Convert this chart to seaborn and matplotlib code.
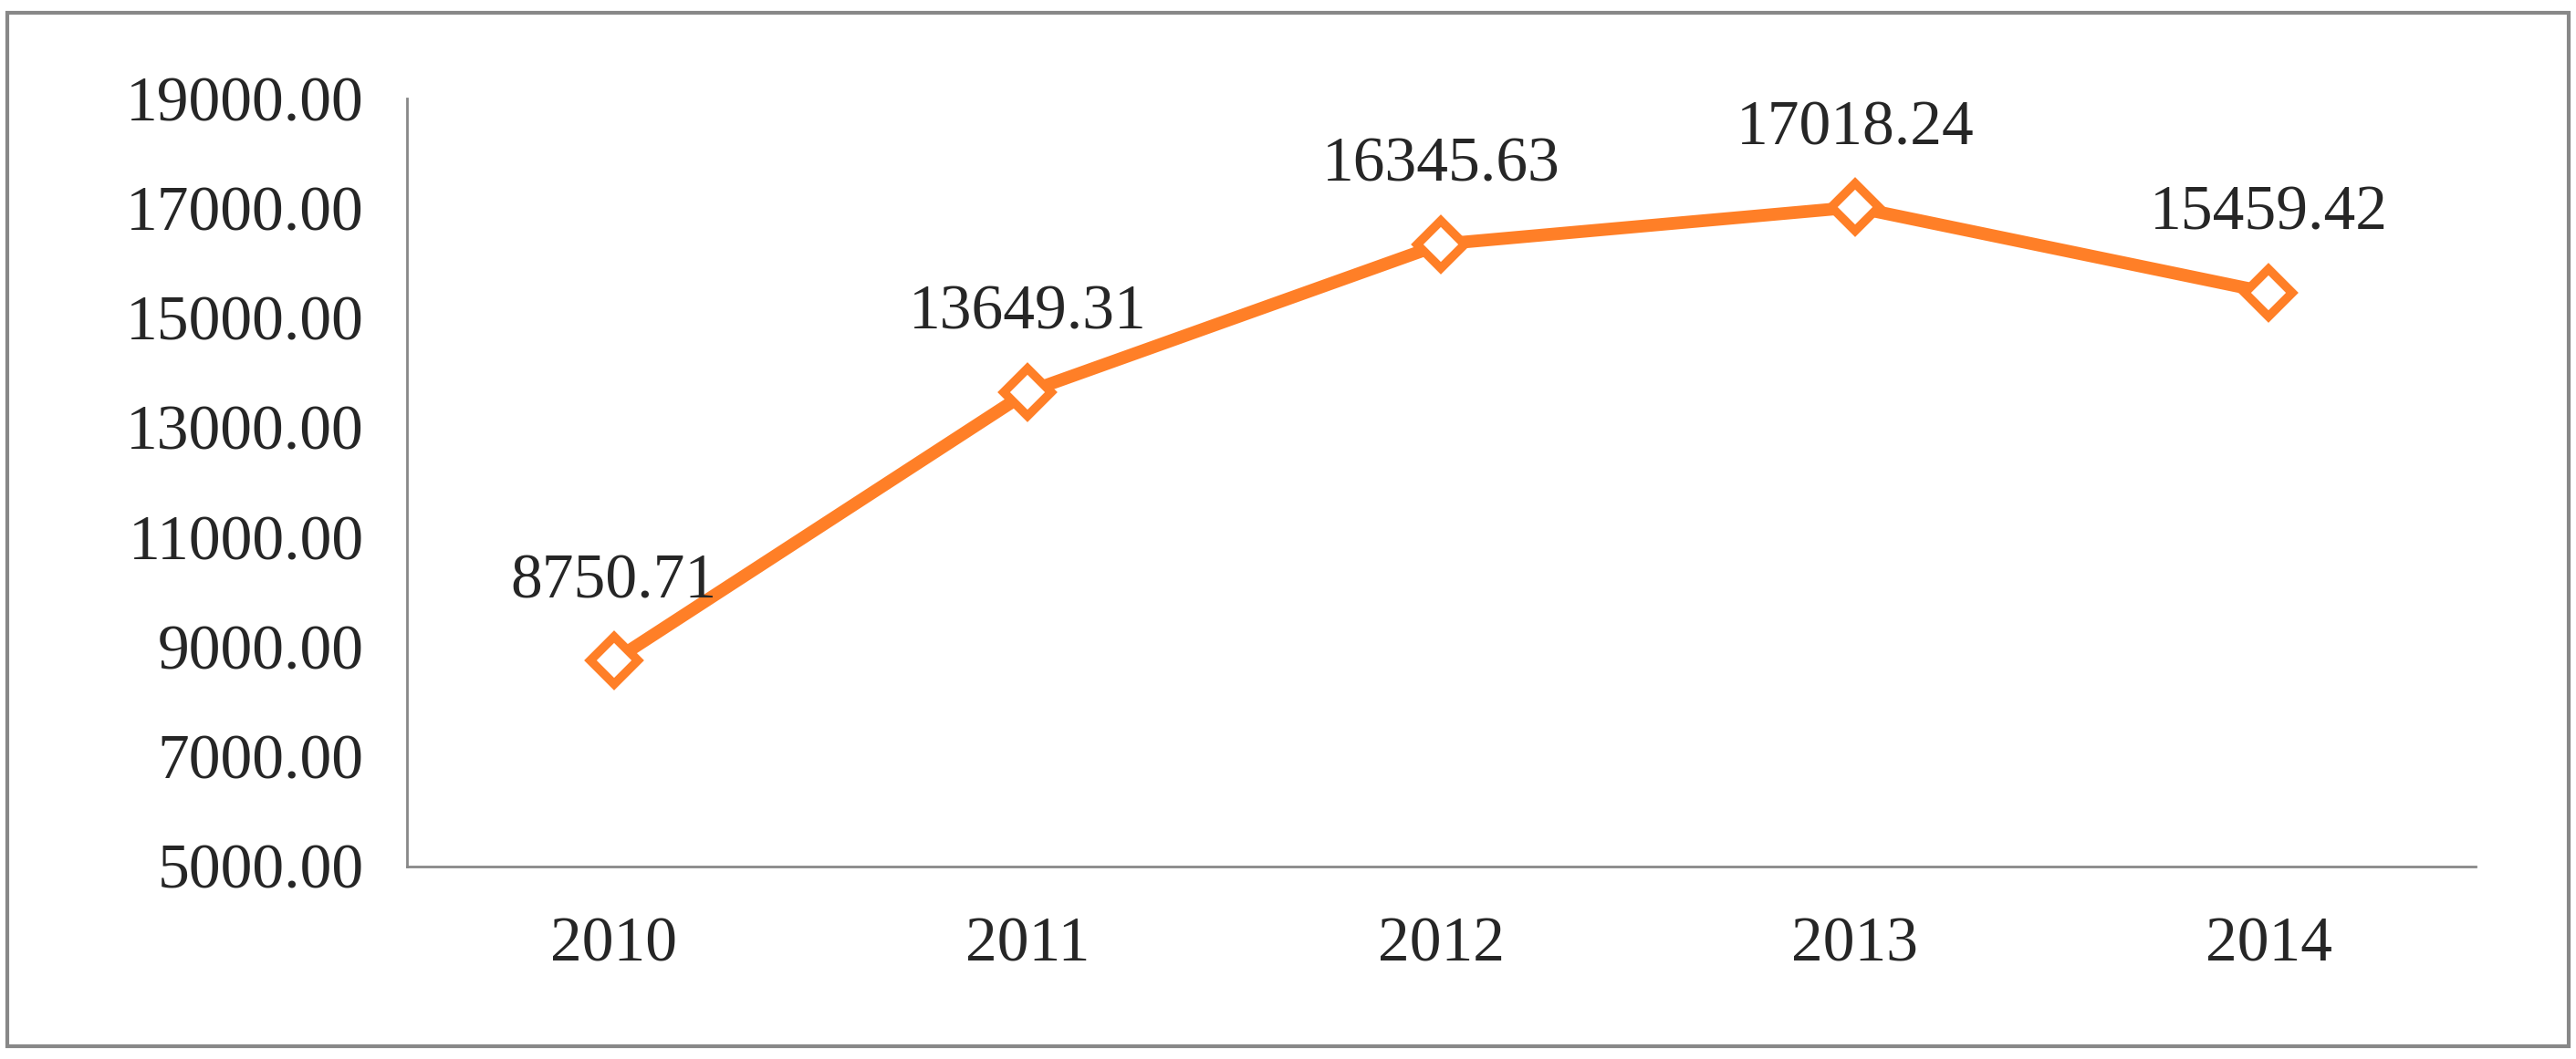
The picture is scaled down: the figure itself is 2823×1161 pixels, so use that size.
import matplotlib
matplotlib.use("Agg")
import matplotlib.pyplot as plt
import seaborn as sns
import pandas as pd
from matplotlib.patches import Rectangle

years = ["2010", "2011", "2012", "2013", "2014"]
values = [8750.71, 13649.31, 16345.63, 17018.24, 15459.42]
yticks = [5000, 7000, 9000, 11000, 13000, 15000, 17000, 19000]

sns.set_style("white")
plt.rcParams['font.family'] = ['Liberation Serif', 'DejaVu Serif']

df = pd.DataFrame({"pos": range(len(years)), "value": values})

fig = plt.figure(figsize=(28.23, 11.61), dpi=100)
ax = fig.add_axes([0.158, 0.182, 0.803, 0.725])
orange = "#FF7F27"
sns.lineplot(data=df, x="pos", y="value", ax=ax, color=orange, linewidth=10,
             marker="D", markersize=26, markerfacecolor="white",
             markeredgecolor=orange, markeredgewidth=7)

for i, v in enumerate(values):
    ax.text(i, v + 900, f"{v:.2f}", ha="center", va="bottom", fontsize=50)

ax.set_xlim(-0.5, len(years) - 0.5)
ax.set_ylim(5000, 19000)
ax.set_yticks(yticks)
ax.set_yticklabels([f"{t:.2f}" for t in yticks], fontsize=50)
ax.set_xticks(range(len(years)))
ax.set_xticklabels(years, fontsize=50)
ax.set_xticks([i - 0.5 for i in range(len(years) + 1)], minor=True)
ax.tick_params(axis="x", which="major", length=0, pad=40)
ax.tick_params(axis="x", which="minor", length=22, width=2, color="#888888", direction="out")
ax.tick_params(axis="y", length=22, width=2, color="#888888", direction="out", pad=12)
ax.set_xlabel("")
ax.set_ylabel("")
for s in ["top", "right"]:
    ax.spines[s].set_visible(False)
for s in ["left", "bottom"]:
    ax.spines[s].set_color("#888888")
    ax.spines[s].set_linewidth(2)

fig.patches.append(Rectangle((0.003, 0.012), 0.994, 0.976, transform=fig.transFigure,
                             fill=False, edgecolor="#888888", linewidth=3))
fig.savefig("out.png", dpi=100)
